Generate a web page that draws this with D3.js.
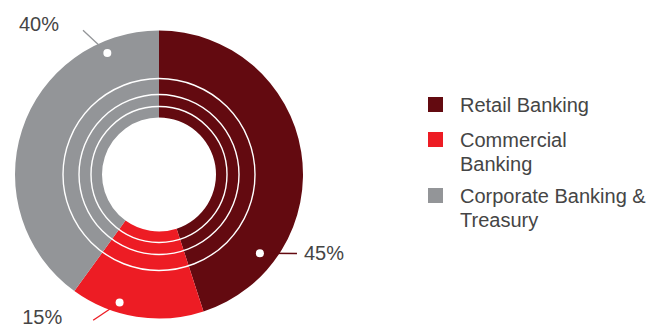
<!DOCTYPE html>
<html>
<head>
<meta charset="utf-8">
<script src="https://cdn.jsdelivr.net/npm/d3@7/dist/d3.min.js"></script>
<style>
  html, body { margin: 0; padding: 0; background: #fff; }
  svg { display: block; }
  text { font-family: "Liberation Sans", Arial, Helvetica, sans-serif; }
</style>
</head>
<body>
<svg id="chart" width="662" height="327"></svg>
<script>
// Segment shares of the business mix
const categories = ["Retail Banking", "Commercial Banking", "Corporate Banking & Treasury"];
const values = [45, 15, 40];
const valueLabels = ["45%", "15%", "40%"];
const legendLines = [["Retail Banking"], ["Commercial", "Banking"], ["Corporate Banking &", "Treasury"]];
const colors = ["#630a10", "#ed1c24", "#939598"];

// Callout layout: marker position inside each slice and where the leader ends
const callouts = [
  { at: 0.79, dotR: 128, endAngle: 119.8, endR: 159, dx: 7, dy: 6, anchor: "start" },
  { at: 0.65, dotR: 134, endAngle: 204.3, endR: 160, dx: -31, dy: 4, anchor: "end" },
  { at: 0.84, dotR: 132, endAngle: 332.2, endR: 163, dx: -24, dy: 1, anchor: "end" }
];

const svg = d3.select("#chart");
const cx = 159, cy = 174.5;
const outerR = 144, innerR = 57;
const ringRadii = [96, 80, 68];
const fontSize = 20;

const g = svg.append("g").attr("transform", `translate(${cx},${cy})`);

const pie = d3.pie().sort(null).value(d => d);
const arcs = pie(values);
const arc = d3.arc().innerRadius(innerR).outerRadius(outerR);

g.selectAll("path.slice")
  .data(arcs)
  .join("path")
  .attr("class", "slice")
  .attr("d", arc)
  .attr("fill", (d, i) => colors[i]);

// Concentric white rings across the donut
g.selectAll("circle.ring")
  .data(ringRadii)
  .join("circle")
  .attr("class", "ring")
  .attr("r", d => d)
  .attr("fill", "none")
  .attr("stroke", "#fff")
  .attr("stroke-width", 1.4);

const polar = (deg, r) => {
  const a = deg * Math.PI / 180;
  return [r * Math.sin(a), -r * Math.cos(a)];
};

arcs.forEach((d, i) => {
  const c = callouts[i];
  const startDeg = d.startAngle * 180 / Math.PI;
  const endDeg = d.endAngle * 180 / Math.PI;
  const dot = polar(startDeg + c.at * (endDeg - startDeg), c.dotR);
  const end = polar(c.endAngle, c.endR);

  g.append("line")
    .attr("x1", dot[0]).attr("y1", dot[1])
    .attr("x2", end[0]).attr("y2", end[1])
    .attr("stroke", colors[i])
    .attr("stroke-width", 1.3);

  g.append("circle")
    .attr("cx", dot[0]).attr("cy", dot[1])
    .attr("r", 4)
    .attr("fill", "#fff");

  g.append("text")
    .attr("x", end[0] + c.dx)
    .attr("y", end[1] + c.dy)
    .attr("text-anchor", c.anchor)
    .attr("font-size", fontSize)
    .attr("fill", "#454545")
    .text(valueLabels[i]);
});

// Legend
const legendX = 428, legendTop = [97, 132, 188];
const legend = svg.append("g");
categories.forEach((name, i) => {
  const row = legend.append("g").attr("transform", `translate(${legendX},${legendTop[i]})`);
  row.append("rect")
    .attr("width", 15).attr("height", 15)
    .attr("fill", colors[i]);
  const t = row.append("text")
    .attr("x", 32)
    .attr("y", 15)
    .attr("font-size", fontSize)
    .attr("fill", "#454545");
  legendLines[i].forEach((line, j) => {
    t.append("tspan").attr("x", 32).attr("dy", j === 0 ? 0 : 23.5).text(line);
  });
});
</script>
</body>
</html>
